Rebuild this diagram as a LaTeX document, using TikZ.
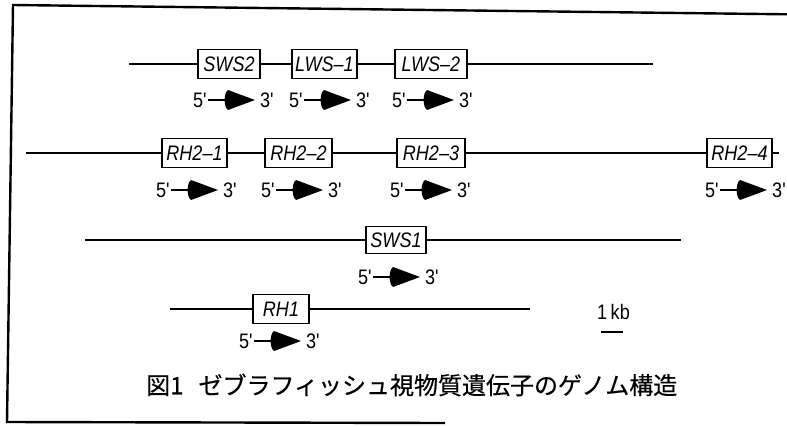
\documentclass[tikz,border=0pt]{standalone}
\usepackage{fontspec}
\setmainfont{Liberation Sans}
\newfontfamily\condsans[FakeStretch=0.86]{Liberation Sans}
\newfontfamily\cjk[FakeBold=0.4]{Noto Sans CJK JP}
\tikzset{
  gene/.style={draw, line width=1.5pt, minimum height=29pt, inner sep=0pt,
    font=\fontsize{21}{21}\condsans\itshape},
  dna/.style={line width=1.8pt},
  endlbl/.style={inner sep=0pt, font=\fontsize{21}{21}\condsans},
  frame/.style={line width=2.4pt},
  dirarrow/.pic={
    \node[endlbl, anchor=west] (-five) at (-40,0) {5'};
    \node[endlbl, anchor=west] (-three) at (27,0) {3'};
    \coordinate (-back) at (-6,0);
    \draw[line width=1.4pt] (-five.east) ++(1.5,0) -- (-back);
    \fill (-5,-10) -- (22,0) -- (-5,10) .. controls (-9.5,7) and (-9.5,-7) .. (-5,-10) -- cycle;
  }
}
\begin{document}
\begin{tikzpicture}[x=1pt,y=-1pt]
\useasboundingbox (0,0) rectangle (787,426);
% frame
\coordinate (ftr) at (787,14.3);
\coordinate (ftl) at (13,5);
\coordinate (fbl) at (7,422);
\coordinate (fbr) at (445,423);
\draw[frame] (ftr) -- (ftl) -- (fbl) -- (fbr);

% row 1
\coordinate (r1s) at (129,64);
\coordinate (r1e) at (653,64);
\node[gene, minimum width=62pt] (sws2) at (229,64) {SWS2};
\node[gene, minimum width=65pt] (lws1) at (324.5,64) {LWS–1};
\node[gene, minimum width=72pt] (lws2) at (431,64) {LWS–2};
\draw[dna] (r1s) -- (sws2) (sws2) -- (lws1) (lws1) -- (lws2) (lws2) -- (r1e);
\pic (a1) at (233,100) {dirarrow};
\pic (a2) at (329,100) {dirarrow};
\pic (a3) at (432,100) {dirarrow};

% row 2
\coordinate (r2s) at (26,153);
\coordinate (r2e) at (779,153);
\node[gene, minimum width=65pt] (rh21) at (194.5,153) {RH2–1};
\node[gene, minimum width=67pt] (rh22) at (298.5,153) {RH2–2};
\node[gene, minimum width=68pt] (rh23) at (431,153) {RH2–3};
\node[gene, minimum width=65pt] (rh24) at (739.5,153) {RH2–4};
\draw[dna] (r2s) -- (rh21) (rh21) -- (rh22) (rh22) -- (rh23) (rh23) -- (rh24) (rh24) -- (r2e);
\pic (b1) at (196,190) {dirarrow};
\pic (b2) at (301,190) {dirarrow};
\pic (b3) at (430,190) {dirarrow};
\pic (b4) at (745,190) {dirarrow};

% row 3
\coordinate (r3s) at (85,240);
\coordinate (r3e) at (681,240);
\node[gene, minimum width=60pt, minimum height=27pt] (sws1) at (396,240) {SWS1};
\draw[dna] (r3s) -- (sws1) (sws1) -- (r3e);
\pic (c1) at (398,277) {dirarrow};

% row 4
\coordinate (r4s) at (170,309);
\coordinate (r4e) at (530,309);
\node[gene, minimum width=56pt] (rh1) at (281,309) {RH1};
\draw[dna] (r4s) -- (rh1) (rh1) -- (r4e);
\pic (d1) at (279,341) {dirarrow};

% scale
\node[endlbl, anchor=west] (kb) at (597,312) {1\,kb};
\coordinate (sb1) at (601,332);
\coordinate (sb2) at (623,332);
\draw[line width=1.8pt] (sb1) -- (sb2);

% title
\node[anchor=west, inner sep=0pt, font=\fontsize{24}{24}\cjk] (title) at (146,385)
  {図1\hspace{15pt}ゼブラフィッシュ視物質遺伝子のゲノム構造};
\end{tikzpicture}
\end{document}
